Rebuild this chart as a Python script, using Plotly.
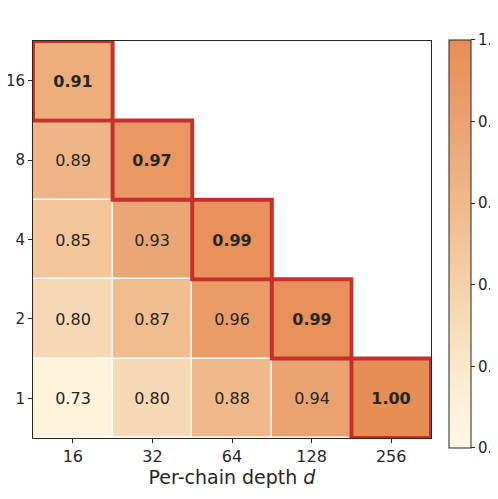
import plotly.graph_objects as go

# Per-chain depth (columns) and number of chains (rows, bottom to top)
depths = ['16', '32', '64', '128', '256']
chains = ['1', '2', '4', '8', '16']

# accuracy values, one row per chain count; None = empty cell
row_1 = [0.73, 0.80, 0.88, 0.94, 1.00]
row_2 = [0.80, 0.87, 0.96, 0.99, None]
row_4 = [0.85, 0.93, 0.99, None, None]
row_8 = [0.89, 0.97, None, None, None]
row_16 = [0.91, None, None, None, None]

cbar_ticks = [0.70, 0.76, 0.82, 0.88, 0.94, 1.00]

z = [row_1, row_2, row_4, row_8, row_16]
n = len(depths)

# highlighted cell in each row = last filled value (the diagonal)
text = []
for i, row in enumerate(z):
    labels = []
    for j, v in enumerate(row):
        if v is None:
            labels.append('')
        elif j == n - 1 - i:
            labels.append('<b>%.2f</b>' % v)
        else:
            labels.append('%.2f' % v)
    text.append(labels)

colorscale = [
    [0.0, '#fff7e2'],
    [0.1, '#fdf2da'],
    [0.333, '#f6d9b4'],
    [0.6, '#f0b98a'],
    [0.8, '#eaa271'],
    [1.0, '#e78e55'],
]

fig = go.Figure(go.Heatmap(
    x=depths,
    y=chains,
    z=z,
    text=text,
    texttemplate='%{text}',
    textfont=dict(family='DejaVu Sans', size=16, color='#262626'),
    colorscale=colorscale,
    zmin=0.70,
    zmax=1.00,
    xgap=1.5,
    ygap=1.5,
    hoverongaps=False,
    colorbar=dict(
        x=1.045, xanchor='left', xpad=0,
        y=0.489, yanchor='middle', ypad=0,
        thickness=22,
        lenmode='pixels', len=408,
        outlinecolor='#262626', outlinewidth=1,
        tickvals=cbar_ticks,
        ticktext=['%.2f' % t for t in cbar_ticks],
        ticks='outside', ticklen=4, tickcolor='#262626',
        tickfont=dict(family='DejaVu Sans', size=15, color='#262626'),
    ),
))

# red boxes round the diagonal cells
for i in range(n):
    j = n - 1 - i
    fig.add_shape(
        type='rect', xref='x', yref='y',
        x0=j - 0.5, x1=j + 0.5, y0=i - 0.5, y1=i + 0.5,
        line=dict(color='#c62f2a', width=4),
    )

fig.update_layout(
    width=490,
    height=483,
    margin=dict(l=25, r=67, t=33, b=53, autoexpand=False),
    plot_bgcolor='white',
    paper_bgcolor='white',
    font=dict(family='DejaVu Sans', size=16, color='#262626'),
    xaxis=dict(
        type='category', range=[-0.5, 4.5], automargin=False,
        title=dict(text='Per-chain depth <i>d</i>', standoff=4),
        ticks='outside', ticklen=4, tickcolor='#262626',
        showline=True, linecolor='#262626', linewidth=1, mirror=True,
        showgrid=False, zeroline=False,
    ),
    yaxis=dict(
        type='category', range=[-0.5, 4.5], automargin=False,
        tickfont=dict(size=15),
        ticks='outside', ticklen=4, tickcolor='#262626',
        showline=True, linecolor='#262626', linewidth=1, mirror=True,
        showgrid=False, zeroline=False,
    ),
)

fig.write_html('out.html')
